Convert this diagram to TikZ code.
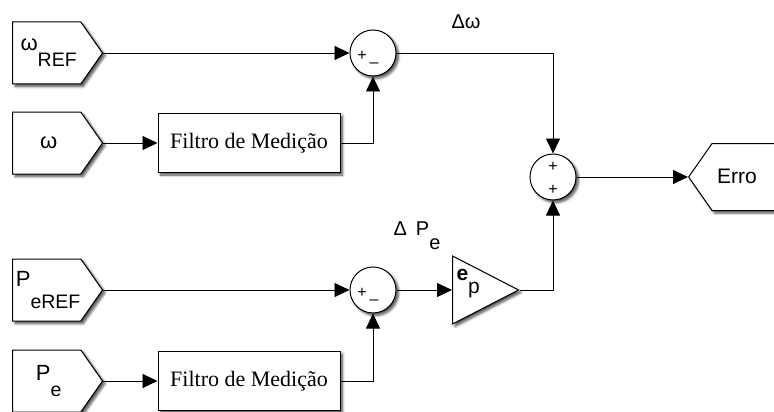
\documentclass[tikz,border=0pt]{standalone}
\usepackage{fontspec}
\setmainfont{Liberation Sans}
\newfontfamily\filtrofont{Liberation Serif}
\usetikzlibrary{positioning,shapes.symbols,shapes.geometric,shadows.blur,arrows.meta}

\newcommand\indice[2]{\raisebox{#1}{\fontsize{19.5}{22}\selectfont #2}}

\tikzset{
  blk/.style={draw, line width=1pt, fill=white,
    blur shadow={shadow xshift=2.5pt, shadow yshift=-2.5pt,
      shadow blur radius=2.5pt, shadow blur steps=6, shadow opacity=70}},
  port/.style={blk, signal, signal to=east, signal pointer angle=110,
    minimum width=90pt, minimum height=62pt, inner sep=0pt,
    font=\fontsize{22}{26}\selectfont},
  filtro/.style={blk, rectangle, minimum width=182pt, minimum height=59pt,
    inner sep=0pt, font=\filtrofont\fontsize{22}{26}\selectfont},
  soma/.style={blk, circle, minimum size=46pt, inner sep=0pt},
  sinal/.style={inner sep=0pt, font=\fontsize{16}{16}\selectfont},
  wire/.style={line width=0.8pt, -{Triangle[length=15pt,width=14pt]}},
}

\begin{document}
\begin{tikzpicture}[x=1pt, y=-1pt]
  \useasboundingbox (0,0) rectangle (774,412);

  % entradas
  \node[port, anchor=west] (wref) at (12,53) {\hspace*{4pt}ω\indice{-16pt}{REF}};
  \node[port, anchor=west] (w) at (12,143) {\hspace*{4pt}ω};
  \node[port, anchor=west] (peref) at (12,290) {\hspace*{3pt}P\indice{-22pt}{eREF}};
  \node[port, anchor=west] (pe) at (12,381) {\hspace*{4pt}P\indice{-16pt}{e}};

  % filtros
  \node[filtro] (f1) at (249,143) {Filtro de Medição};
  \node[filtro] (f2) at (249,381) {Filtro de Medição};

  % somadores
  \node[soma] (s1) at (373,53) {};
  \node[sinal] at ([shift={(-11,3)}]s1.center) {+};
  \node[sinal] at ([shift={(1,12)}]s1.center) {–};
  \node[soma] (s2) at (373,290) {};
  \node[sinal] at ([shift={(-11,3)}]s2.center) {+};
  \node[sinal] at ([shift={(1,12)}]s2.center) {–};
  \node[soma] (s3) at (553,177) {};
  \node[sinal] at ([shift={(0,-10)}]s3.center) {+};
  \node[sinal] at ([shift={(0,13)}]s3.center) {+};

  % ganho
  \node[blk, isosceles triangle, isosceles triangle apex angle=52,
    isosceles triangle stretches, minimum width=68pt, minimum height=66pt,
    inner sep=0pt, anchor=lower side] (kp) at (452,290) {};
  \node[anchor=west, font=\fontsize{21}{24}\selectfont] (kptxt)
    at (453,284) {\textbf{e}\raisebox{-13pt}{p}};

  % saida
  \node[port, signal to=west, minimum width=110pt, minimum height=67pt,
    anchor=west] (erro) at (688,177) {};
  \node[font=\fontsize{21}{24}\selectfont] (errotxt) at (737,176) {Erro};

  % rotulos
  \node[font=\fontsize{20}{24}\selectfont] (dw) at (466,22) {Δω};
  \node[font=\fontsize{20}{24}\selectfont] (dpe) at (417,236)
    {Δ\hspace{9pt}P\raisebox{-14pt}{e}};

  % ligacoes
  \draw[wire] (wref.east) -- (s1.west);
  \draw[wire] (w.east) -- (f1.west);
  \draw[wire] (f1.east) -| (s1.south);
  \draw[wire] (s1.east) -| (s3.north);
  \draw[wire] (s3.east) -- (erro.west);
  \draw[wire] (peref.east) -- (s2.west);
  \draw[wire] (pe.east) -- (f2.west);
  \draw[wire] (f2.east) -| (s2.south);
  \draw[wire] (s2.east) -- (kp.lower side);
  \draw[wire] (kp.apex) -| (s3.south);
\end{tikzpicture}
\end{document}
